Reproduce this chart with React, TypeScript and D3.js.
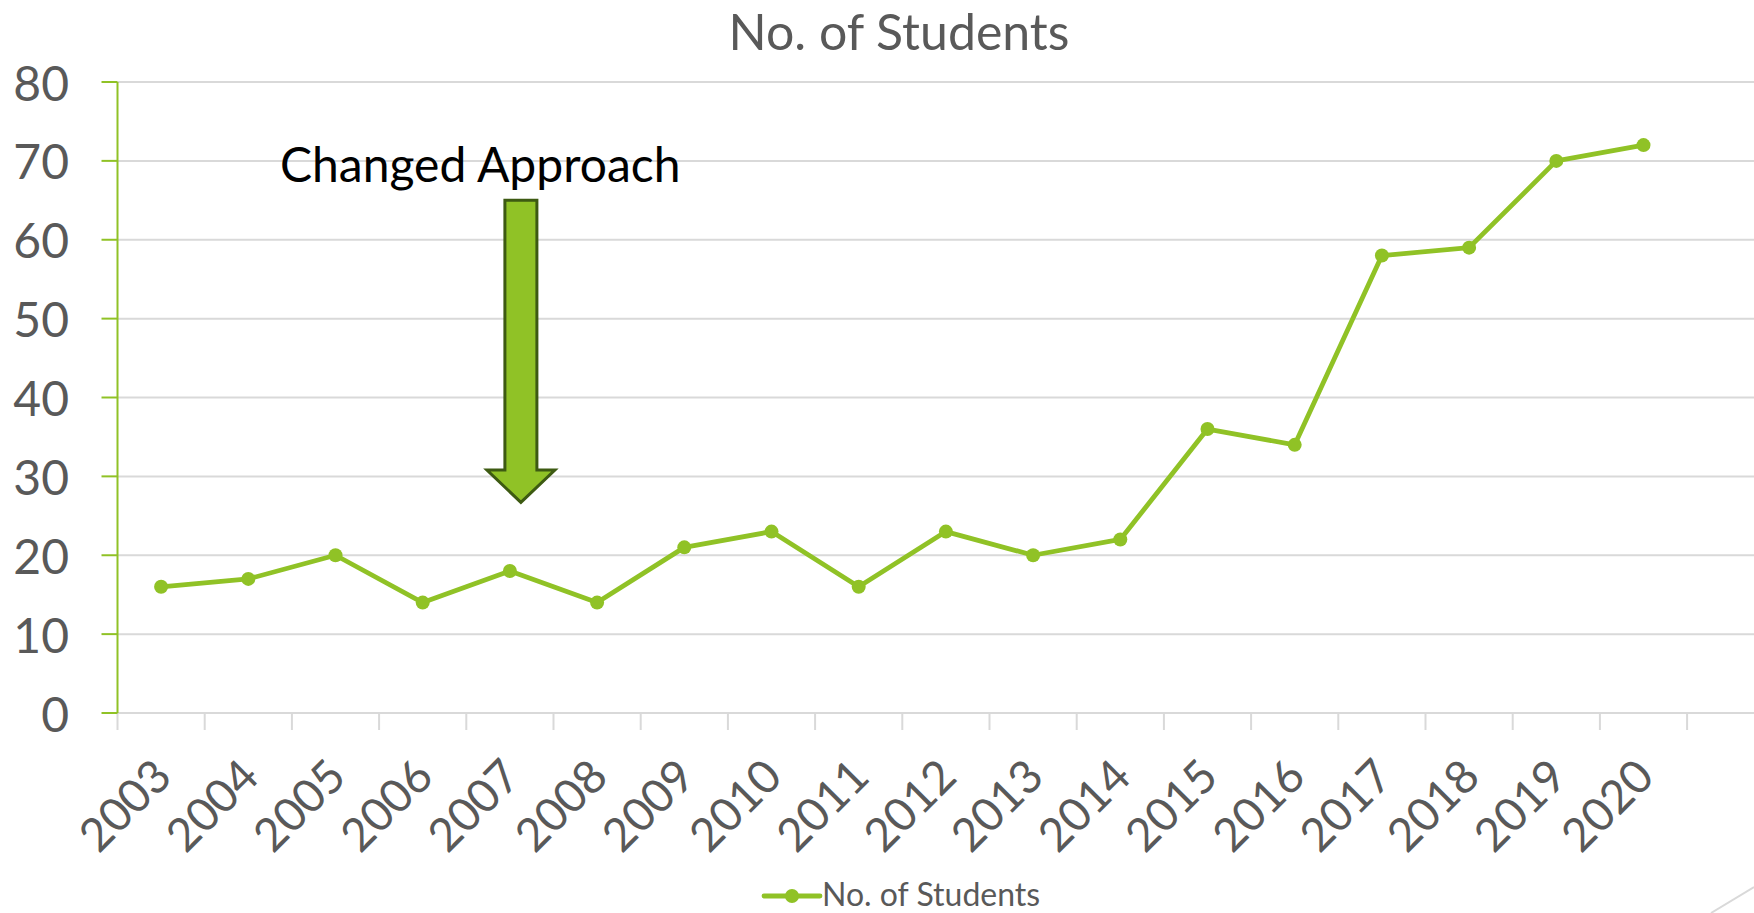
import React from "react";
import * as d3 from "d3";

const years = ["2003","2004","2005","2006","2007","2008","2009","2010","2011","2012","2013","2014","2015","2016","2017","2018","2019","2020"];
const students = [16,17,20,14,18,14,21,23,16,23,20,22,36,34,58,59,70,72];
const yTicks = [0,10,20,30,40,50,60,70,80];
const seriesName = "No. of Students";
const titleText = "No. of Students";
const annotationText = "Changed Approach";

const W = 1754, H = 913;
const FONT = "Lato, 'Open Sans', sans-serif";
const GREEN = "#90C226";
const GRAY = "#595959";
const GRID = "#D9D9D9";

export default function App() {
  const left = 117.5, plotTop = 82, plotBottom = 713;
  // 19 slots: 18 years + one empty trailing slot (plot area continues past the frame)
  const slots = [...years, ""];
  const x = d3.scaleBand<string>().domain(slots).range([left, left + 87.2 * slots.length]).paddingInner(0).paddingOuter(0);
  const y = d3.scaleLinear().domain([0, 80]).range([plotBottom, plotTop]);
  const cx = (yr: string) => (x(yr) as number) + x.bandwidth() / 2;
  const line = d3.line<number>().x((_, i) => cx(years[i])).y(d => y(d));
  const right = W + 40;

  // arrow annotation geometry (in data terms around 2007)
  const ax = cx("2007") + 11;
  const bodyHalf = 16, headHalf = 34;
  const topY = y(65), neckY = y(30.8), tipY = y(26.7);
  const arrowPath = `M${ax - bodyHalf},${topY} L${ax + bodyHalf},${topY} L${ax + bodyHalf},${neckY} L${ax + headHalf},${neckY} L${ax},${tipY} L${ax - headHalf},${neckY} L${ax - bodyHalf},${neckY} Z`;

  return (
    <svg width={W} height={H} style={{ position: "absolute", left: 0, top: 0, background: "#fff" }} fontFamily={FONT}>
      <rect x={0} y={0} width={W} height={H} fill="#fff" />
      <text x={899} y={50} textAnchor="middle" fontSize={50} fill={GRAY}>{titleText}</text>
      {/* gridlines */}
      {yTicks.filter(t => t > 0).map(t => (
        <line key={t} x1={left} x2={right} y1={y(t)} y2={y(t)} stroke={GRID} strokeWidth={2} />
      ))}
      {/* x axis */}
      <line x1={left} x2={right} y1={y(0)} y2={y(0)} stroke={GRID} strokeWidth={2} />
      {slots.map((s, i) => (
        <line key={i} x1={x(s) as number} x2={x(s) as number} y1={y(0)} y2={y(0) + 17} stroke={GRID} strokeWidth={2} />
      ))}
      {/* y axis */}
      <line x1={left} x2={left} y1={y(80)} y2={y(0)} stroke={GREEN} strokeWidth={2} />
      {yTicks.map(t => (
        <g key={t}>
          <line x1={left - 16} x2={left} y1={y(t)} y2={y(t)} stroke={GREEN} strokeWidth={2} />
          <text x={69} y={y(t)} textAnchor="end" dominantBaseline="central" fontSize={48} fill={GRAY}>{t}</text>
        </g>
      ))}
      {/* x labels */}
      {years.map(yr => (
        <text key={yr} transform={`translate(${cx(yr) + 13},${779}) rotate(-45)`} textAnchor="end" fontSize={46} fill={GRAY}>{yr}</text>
      ))}
      {/* series */}
      <path d={line(students) || ""} fill="none" stroke={GREEN} strokeWidth={4.8} strokeLinejoin="round" />
      {students.map((v, i) => (
        <circle key={i} cx={cx(years[i])} cy={y(v)} r={7} fill={GREEN} />
      ))}
      {/* annotation */}
      <text x={280} y={182} fontSize={48} fill="#000">{annotationText}</text>
      <path d={arrowPath} fill={GREEN} stroke="#3D5A12" strokeWidth={3} />
      {/* legend */}
      <line x1={764} x2={820} y1={896} y2={896} stroke={GREEN} strokeWidth={4.8} strokeLinecap="round" />
      <circle cx={792} cy={896} r={7} fill={GREEN} />
      <text x={822} y={906} fontSize={32} fill={GRAY}>{seriesName}</text>
      {/* decorative corner line */}
      <line x1={1711} y1={913} x2={1754} y2={887} stroke={GRID} strokeWidth={2} />
    </svg>
  );
}
